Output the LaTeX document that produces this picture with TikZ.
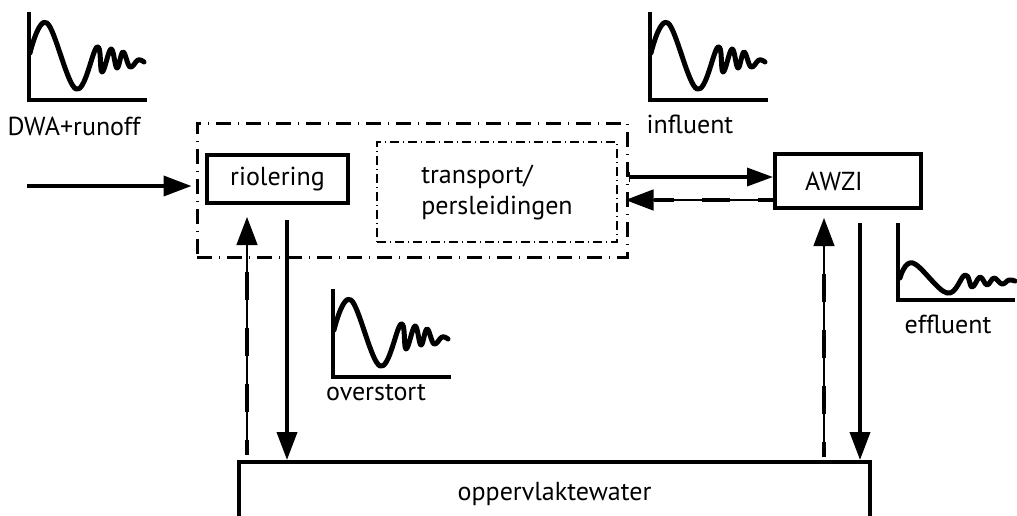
\documentclass[tikz,border=0pt]{standalone}
\usepackage{fontspec}
\setmainfont{PT Sans}
\usetikzlibrary{arrows.meta}
\begin{document}
\begin{tikzpicture}[x=1pt,y=-1pt,
  font=\fontsize{26}{31}\selectfont,
  thickbox/.style={draw, line width=4pt, inner sep=0pt},
  arr/.style={line width=3.8pt, -{Triangle[length=28pt,width=20pt]}},
  dconn/.style 2 args={line width=1.2pt, -{Triangle[length=28pt,width=21pt]},
     shorten <=#1, shorten >=#2,
     preaction={draw, -, line width=4.5pt, dash pattern=on 28pt off 28pt, dash phase=13pt,
                shorten <=#1, shorten >=#2+28pt}},
  gaxis/.style={line width=3.5pt, line join=miter},
  gcurve/.style={line width=5pt, line cap=round, line join=round},
  wave/.pic={
    \draw[gaxis] (0,-88) -- (0,0) -- (118,0);
    \draw[gcurve] plot[smooth, tension=0.65] coordinates {(1,-47) (18,-77) (47,-11) (68,-53) (73,-28) (82,-51) (88,-32) (94,-48) (101,-33) (109,-40) (115,-38)};
  },
  waveeff/.pic={
    \draw[gaxis] (0,-77) -- (0,0) -- (117,0);
    \draw[gcurve] plot[smooth, tension=0.65] coordinates {(2,-22) (15,-37) (49,-7) (67,-25) (74,-13) (82,-23) (89,-15) (96,-22) (104,-16) (111,-20) (117,-19)};
  }]
\useasboundingbox (0,0) rectangle (1017,515);

% graphs
\pic at (29,100) {wave};
\pic at (650,100) {wave};
\pic at (333,377) {wave};
\pic at (898,300) {waveeff};

% labels
\node[anchor=base, inner sep=0pt] (lDWA) at (74,135) {DWA+runoff};
\node[anchor=base, inner sep=0pt] (linf) at (690,133) {influent};
\node[anchor=base, inner sep=0pt] (lover) at (376,400) {overstort};
\node[anchor=base, inner sep=0pt] (leff) at (948,333) {effluent};

% boxes
\node[draw, line width=3pt, dash pattern=on 15pt off 7pt on 1pt off 7pt,
      minimum width=430, minimum height=134] (sys) at (412,190) {};
\node[draw, line width=2.2pt, dash pattern=on 9pt off 4pt on 1pt off 4pt,
      minimum width=240, minimum height=100, align=left] (trans) at (497,192) {transport/\\persleidingen};
\node[thickbox, minimum width=141, minimum height=48] (rio) at (277.5,179) {riolering};
\node[thickbox, minimum width=146, minimum height=54, text width=86pt, align=left] (awzi) at (848,181) {AWZI};
\node[thickbox, anchor=north, minimum width=631, inner ysep=19pt, text height=19pt, text depth=60pt] (ow) at (554.5,460) {oppervlaktewater};

% helper coordinates
\coordinate (in) at (27,186);
\coordinate (yin) at (0,177);
\coordinate (yret) at (0,200);
\coordinate (xa) at (247,0);
\coordinate (xb) at (287,0);
\coordinate (xc) at (824,0);
\coordinate (xd) at (860,0);

% connectors
\draw[arr] (in) -- ([xshift=-4pt]in -| sys.west);
\draw[line width=3.5pt, {Bar[width=10pt,line width=1.5pt]}-{Triangle[length=26pt,width=18pt]}] (sys.east |- yin) -- (awzi.west |- yin);
\draw[dconn={0pt}{-3pt}] (awzi.west |- yret) -- (sys.east |- yret);
\draw[arr, shorten <=15pt] (rio.south -| xb) -- (ow.north -| xb);
\draw[dconn={5pt}{12pt}] (ow.north -| xa) -- (rio.south -| xa);
\draw[arr, shorten <=13pt] (awzi.south -| xd) -- (ow.north -| xd);
\draw[dconn={3pt}{8pt}] (ow.north -| xc) -- (awzi.south -| xc);
\end{tikzpicture}
\end{document}
